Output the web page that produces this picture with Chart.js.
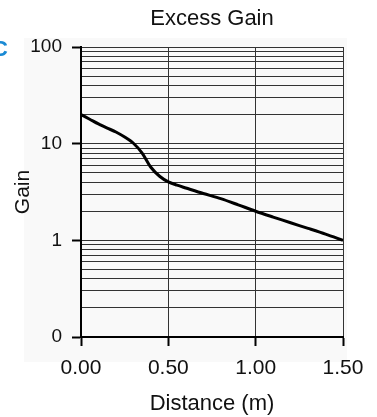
<!DOCTYPE html>
<html>
<head>
<meta charset="utf-8">
<script src="https://cdn.jsdelivr.net/npm/chart.js@4"></script>
<style>
  html, body { margin: 0; padding: 0; background: #fff; }
  #wrap { width: 377px; height: 417px; position: relative; }
</style>
</head>
<body>
<div id="wrap"><canvas id="myChart"></canvas></div>
<script>
const distances = [0, 0.05, 0.1, 0.15, 0.2, 0.25, 0.3, 0.35, 0.4, 0.45, 0.5, 0.55, 0.6, 0.7, 0.8, 0.9, 1.0, 1.1, 1.2, 1.3, 1.4, 1.5];
const gains = [20, 17.9, 16.0, 14.5, 13.2, 11.7, 10.1, 8.0, 5.7, 4.6, 4.02, 3.72, 3.48, 3.05, 2.7, 2.33, 2.0, 1.74, 1.52, 1.33, 1.16, 1.0];
const xTicks = [0, 0.5, 1.0, 1.5];
const yMajor = [0.1, 1, 10, 100];
const yLabels = ['0', '1', '10', '100'];

const font = 'Liberation Sans, Arial, sans-serif';

function isMajor(v) {
  return yMajor.some(m => Math.abs(m - v) < 1e-9);
}

const backdrop = {
  id: 'backdrop',
  beforeDraw(chart) {
    const c = chart.ctx;
    const a = chart.chartArea;
    c.save();
    c.fillStyle = '#f9f9f9';
    c.fillRect(a.left - 57, a.top - 9, a.right - a.left + 61, a.bottom - a.top + 34);
    c.restore();
  },
  afterDraw(chart) {
    const c = chart.ctx;
    c.save();
    c.fillStyle = '#1a8ad4';
    c.font = 'bold 22px ' + font;
    c.textAlign = 'right';
    c.textBaseline = 'middle';
    c.fillText('C', 8, 50);
    c.restore();
  }
};

const ctx = document.getElementById('myChart').getContext('2d');
const myChart = new Chart(ctx, {
  type: 'line',
  data: {
    datasets: [
      {
        data: distances.map((d, i) => ({ x: d, y: gains[i] })),
        borderColor: '#000',
        borderWidth: 3,
        pointRadius: 0,
        tension: 0.3,
        fill: false,
      },
    ],
  },
  options: {
    responsive: true,
    maintainAspectRatio: false,
    animation: false,
    layout: { padding: { left: 0, right: 34, top: 0, bottom: 0 } },
    plugins: {
      legend: { display: false },
      tooltip: { enabled: false },
      title: {
        display: true,
        text: 'Excess Gain',
        fullSize: false,
        color: '#111',
        font: { family: font, size: 22, weight: 'normal' },
        padding: { top: 6, bottom: 14.6 },
      },
    },
    scales: {
      x: {
        type: 'linear',
        min: 0,
        max: 1.5,
        afterBuildTicks: scale => {
          scale.ticks = xTicks.map(v => ({ value: v }));
        },
        afterFit: scale => {
          scale.height = 80;
        },
        ticks: {
          color: '#111',
          font: { family: font, size: 21 },
          padding: 10,
          maxRotation: 0,
          callback: v => v.toFixed(2),
        },
        grid: {
          color: '#333',
          lineWidth: 1,
          tickLength: 9,
          tickWidth: 2,
          tickColor: '#000',
        },
        border: { color: '#000', width: 2 },
        title: {
          display: true,
          text: 'Distance (m)',
          color: '#111',
          font: { family: font, size: 22 },
          padding: { top: 0, bottom: 0 },
        },
      },
      y: {
        type: 'logarithmic',
        min: 0.1,
        max: 100,
        afterBuildTicks: scale => {
          const t = [];
          [0.1, 1, 10].forEach(dec => {
            for (let k = 1; k < 10; k++) t.push({ value: dec * k });
          });
          t.push({ value: 100 });
          scale.ticks = t;
        },
        afterFit: scale => {
          scale.width = 81;
        },
        ticks: {
          color: '#111',
          font: { family: font, size: 19 },
          padding: 10,
          autoSkip: false,
          callback: v => {
            const i = yMajor.findIndex(m => Math.abs(m - v) < 1e-9);
            return i >= 0 ? yLabels[i] : '';
          },
        },
        grid: {
          color: '#333',
          lineWidth: 1,
          tickLength: 9,
          tickWidth: 2,
          tickColor: c => (c.tick && isMajor(c.tick.value) ? '#000' : 'rgba(0,0,0,0)'),
        },
        border: { color: '#000', width: 2 },
        title: {
          display: true,
          text: 'Gain',
          color: '#111',
          font: { family: font, size: 21 },
          padding: { top: 11, bottom: 0 },
        },
      },
    },
  },
  plugins: [backdrop],
});
</script>
</body>
</html>
